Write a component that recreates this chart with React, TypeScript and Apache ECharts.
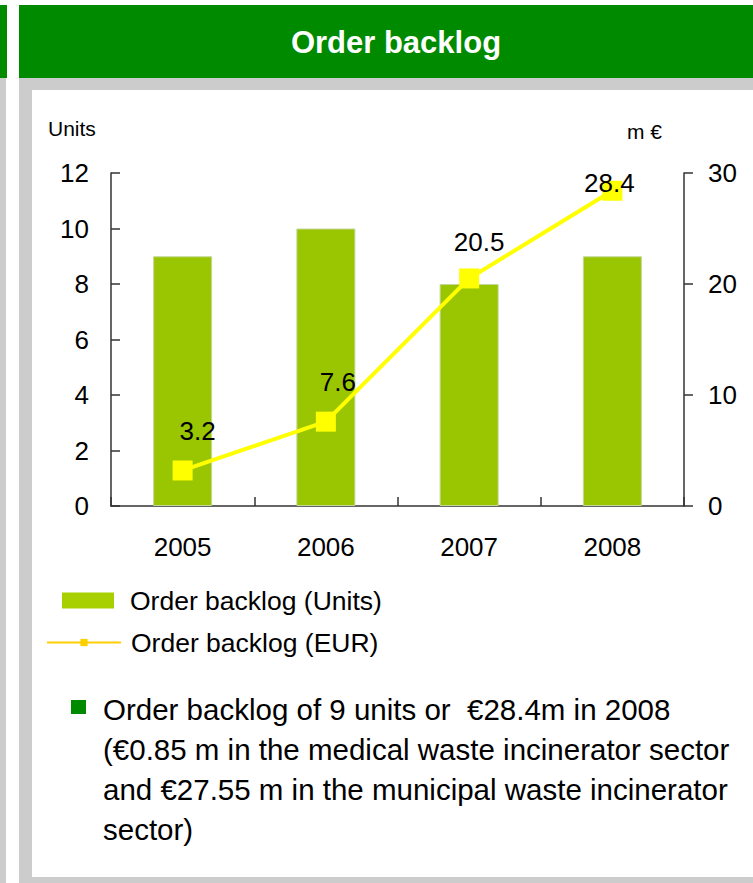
import React, { useEffect, useRef } from "react";
import * as echarts from "echarts";

const categories = ["2005", "2006", "2007", "2008"];
const unitsValues = [9, 10, 8, 9];
const eurValues = [3.2, 7.6, 20.5, 28.4];
const leftTicks = { min: 0, max: 12, interval: 2 };
const rightTicks = { min: 0, max: 30, interval: 10 };
const titleText = "Order backlog";
const legendUnits = "Order backlog (Units)";
const legendEur = "Order backlog (EUR)";
const noteLines = [
  "Order backlog of 9 units or  €28.4m in 2008",
  "(€0.85 m in the medical waste incinerator sector",
  "and €27.55 m in the municipal waste incinerator",
  "sector)",
];
const labelOffsets: [number, number][] = [
  [15, -11],
  [12, -12],
  [10, -8],
  [-3, 20],
];

const FONT = "Liberation Sans, Arial, sans-serif";
const GREEN = "#008A00";
const GRAY = "#CCCCCC";

export default function App() {
  const ref = useRef<HTMLDivElement>(null);
  useEffect(() => {
    document.body.style.margin = "0";
    const chart = echarts.init(ref.current!, null, { renderer: "svg" });
    const option: any = {
      animation: false,
      textStyle: { fontFamily: FONT },
      grid: { left: 111, right: 69, top: 173, bottom: 377 },
      graphic: [
        { type: "rect", shape: { x: 0, y: 5, width: 7, height: 73 }, style: { fill: GREEN } },
        { type: "rect", shape: { x: 0, y: 78, width: 6, height: 805 }, style: { fill: GRAY } },
        { type: "rect", shape: { x: 19, y: 5, width: 734, height: 73 }, style: { fill: GREEN } },
        { type: "rect", shape: { x: 19, y: 78, width: 734, height: 805 }, style: { fill: GRAY } },
        { type: "rect", shape: { x: 32, y: 90, width: 721, height: 787 }, style: { fill: "#FFFFFF" } },
        {
          type: "text",
          x: 396,
          y: 42,
          style: {
            text: titleText,
            fill: "#FFFFFF",
            font: `bold 31px ${FONT}`,
            align: "center",
            verticalAlign: "middle",
          },
        },
        {
          type: "text",
          x: 48,
          y: 128,
          style: { text: "Units", fill: "#000", font: `21px ${FONT}`, verticalAlign: "middle" },
        },
        {
          type: "text",
          x: 627,
          y: 131,
          style: { text: "m €", fill: "#000", font: `21px ${FONT}`, verticalAlign: "middle" },
        },
        { type: "rect", shape: { x: 71, y: 700, width: 15, height: 14 }, style: { fill: GREEN } },
        ...noteLines.map((t, i) => ({
          type: "text",
          x: 103,
          y: 709 + i * 40,
          style: { text: t, fill: "#000", font: `29.5px ${FONT}`, verticalAlign: "middle" },
        })),
      ],
      legend: [
        {
          show: true,
          left: 62,
          top: 587,
          padding: 0,
          orient: "vertical",
          icon: "rect",
          itemWidth: 52,
          itemHeight: 16,
          data: [{ name: legendUnits, itemStyle: { color: "#A8D000", borderWidth: 0 } }],
          textStyle: { fontSize: 26.5, color: "#000", fontFamily: FONT, padding: [0, 0, 0, 11] },
          selectedMode: false,
        },
        {
          show: true,
          left: 46,
          top: 629,
          padding: 0,
          orient: "vertical",
          itemWidth: 74,
          itemHeight: 9,
          data: [
            {
              name: legendEur,
              itemStyle: { color: "#FFD000" },
              lineStyle: { color: "#FFD000", width: 2 },
            },
          ],
          textStyle: { fontSize: 26.5, color: "#000", fontFamily: FONT, padding: [0, 0, 0, 5] },
          selectedMode: false,
        },
      ],
      xAxis: {
        type: "category",
        data: categories,
        boundaryGap: true,
        axisLine: { show: true, lineStyle: { color: "#333", width: 1.5 } },
        axisTick: { show: true, inside: true, length: 9, alignWithLabel: false, lineStyle: { color: "#333", width: 1.5 } },
        axisLabel: { fontSize: 26, color: "#000", margin: 28, fontFamily: FONT },
        splitLine: { show: false },
      },
      yAxis: [
        {
          type: "value",
          position: "left",
          min: leftTicks.min,
          max: leftTicks.max,
          interval: leftTicks.interval,
          axisLine: { show: true, lineStyle: { color: "#333", width: 1.5 } },
          axisTick: { show: true, inside: true, length: 9, lineStyle: { color: "#333", width: 1.5 } },
          axisLabel: { fontSize: 26, color: "#000", margin: 22, fontFamily: FONT },
          splitLine: { show: false },
        },
        {
          type: "value",
          position: "right",
          min: rightTicks.min,
          max: rightTicks.max,
          interval: rightTicks.interval,
          axisLine: { show: true, lineStyle: { color: "#333", width: 1.5 } },
          axisTick: { show: true, inside: false, length: 9, lineStyle: { color: "#333", width: 1.5 } },
          axisLabel: { fontSize: 26, color: "#000", margin: 24, fontFamily: FONT },
          splitLine: { show: false },
        },
      ],
      series: [
        {
          name: legendUnits,
          type: "bar",
          yAxisIndex: 0,
          data: unitsValues,
          barWidth: 59,
          itemStyle: { color: "#99C600", borderColor: "#C4D69A", borderWidth: 1 },
          z: 1,
        },
        {
          name: legendEur,
          type: "line",
          yAxisIndex: 1,
          data: eurValues.map((v, i) => ({
            value: v,
            label: { offset: labelOffsets[i] },
          })),
          symbol: "rect",
          symbolSize: 20,
          lineStyle: { color: "#FFFF00", width: 4 },
          itemStyle: { color: "#FFFF00" },
          label: {
            show: true,
            position: "top",
            fontSize: 26,
            color: "#000",
            fontFamily: FONT,
          },
          z: 3,
        },
      ],
    };
    chart.setOption(option);
    return () => chart.dispose();
  }, []);
  return <div ref={ref} style={{ width: 753, height: 883 }} />;
}
